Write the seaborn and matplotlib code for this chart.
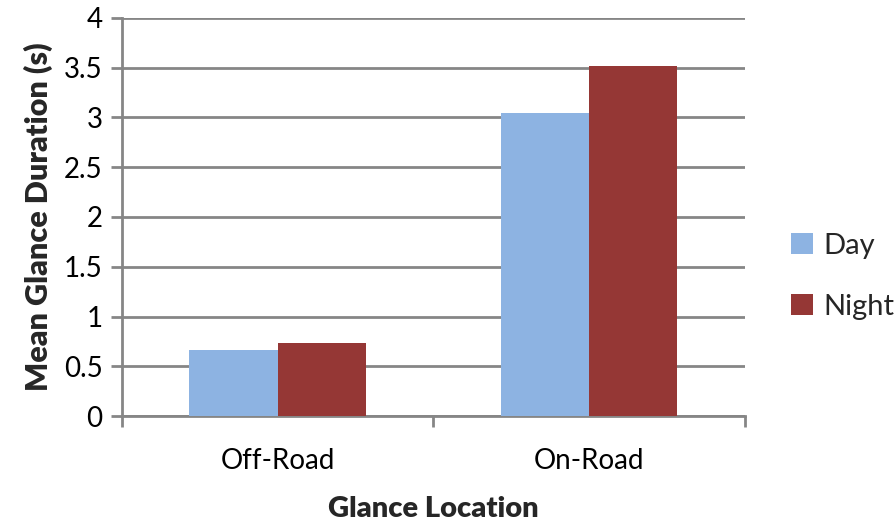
import matplotlib
matplotlib.use("Agg")
import matplotlib.pyplot as plt
import seaborn as sns
import pandas as pd
from matplotlib.patches import Patch

locations = ["Off-Road", "On-Road"]
conditions = ["Day", "Night"]
day_values = [0.66, 3.05]
night_values = [0.73, 3.52]
colors = ["#8DB3E2", "#953735"]

df = pd.DataFrame({
    "Glance Location": locations * 2,
    "Condition": ["Day"] * len(locations) + ["Night"] * len(locations),
    "Mean Glance Duration (s)": day_values + night_values,
})

sns.set_theme(style="white")
plt.rcParams["font.family"] = ["Lato", "DejaVu Sans"]

fig = plt.figure(figsize=(8.96, 5.21), dpi=100)
ax = fig.add_axes([0.136, 0.2015, 0.6955, 0.764])

sns.barplot(data=df, x="Glance Location", y="Mean Glance Duration (s)",
            hue="Condition", hue_order=conditions, palette=colors,
            width=0.566, gap=0, saturation=1, ax=ax, legend=False,
            edgecolor="none", linewidth=0, zorder=3)

grid_color = "#868686"
ax.set_ylim(0, 4)
ax.set_xlim(-0.5, 1.5)
ax.set_yticks([0, 0.5, 1, 1.5, 2, 2.5, 3, 3.5, 4])
ax.set_yticklabels(["0", "0.5", "1", "1.5", "2", "2.5", "3", "3.5", "4"])
ax.yaxis.grid(True, color=grid_color, linewidth=2, zorder=0)
ax.set_axisbelow(True)

for side in ["top", "right"]:
    ax.spines[side].set_visible(False)
for side in ["left", "bottom"]:
    ax.spines[side].set_color(grid_color)
    ax.spines[side].set_linewidth(2)

ax.tick_params(axis="y", which="major", direction="out", length=8, width=2,
               color=grid_color, labelsize=20, pad=6, left=True)
ax.set_xticks([0, 1])
ax.set_xticklabels(locations)
ax.set_xticks([-0.5, 0.5, 1.5], minor=True)
ax.tick_params(axis="x", which="major", length=0, labelsize=20, pad=23)
ax.tick_params(axis="x", which="minor", direction="out", length=8, width=2,
               color=grid_color, bottom=True)
for lbl in ax.get_xticklabels() + ax.get_yticklabels():
    lbl.set_color("#000000")

ax.set_xlabel("Glance Location", fontsize=21, fontweight="heavy", labelpad=16)
ax.set_ylabel("Mean Glance Duration (s)", fontsize=22, fontweight="heavy", labelpad=8)

handles = [Patch(facecolor=c, edgecolor="none", label=n) for c, n in zip(colors, conditions)]
fig.legend(handles=handles, loc="center left", bbox_to_anchor=(0.883, 0.470),
           frameon=False, fontsize=21, handlelength=0.75, handleheight=0.75,
           handletextpad=0.35, labelspacing=1.2, borderpad=0, borderaxespad=0)

fig.savefig("out.png", dpi=100)
